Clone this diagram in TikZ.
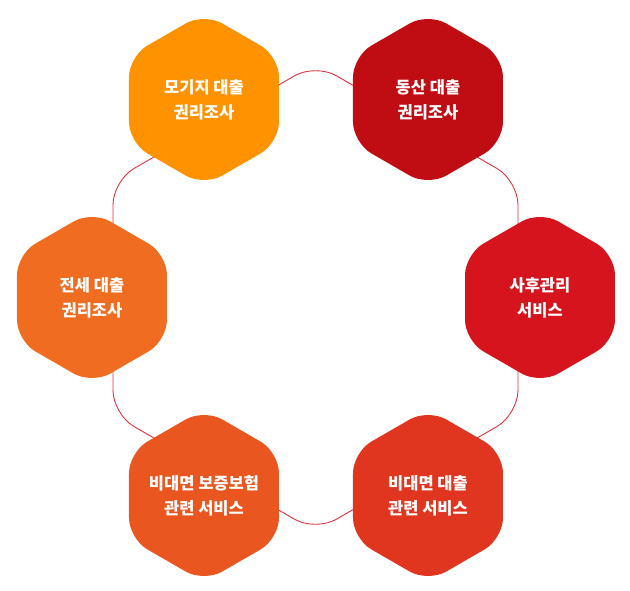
\documentclass[tikz,border=0pt]{standalone}
\usepackage{fontspec}
\newfontfamily\krfont{Noto Sans CJK KR}
\usetikzlibrary{shapes.geometric}
\definecolor{ringred}{RGB}{222,52,64}
\definecolor{mortgage}{RGB}{255,146,0}
\definecolor{movable}{RGB}{192,13,20}
\definecolor{aftercare}{RGB}{214,20,30}
\definecolor{onlineloan}{RGB}{224,54,32}
\definecolor{insurance}{RGB}{234,86,32}
\definecolor{lease}{RGB}{239,108,33}
\begin{document}
\begin{tikzpicture}[x=1pt,y=1pt,
    hexa/.style={regular polygon, regular polygon sides=6, shape border rotate=30,
      minimum size=173.2pt, inner sep=-20pt, rounded corners=21pt, text=white,
      align=center, font=\krfont\bfseries\fontsize{16.5}{25}\selectfont},
    ringline/.style={draw=ringred, line width=0.9pt, regular polygon,
      regular polygon sides=6, shape border rotate=30, minimum size=467.6pt,
      rounded corners=24pt}]
  \useasboundingbox (-316,-292.5) rectangle (314,297.5);
  \node[ringline] (ring) at (-0.5,0) {};
  \path
    (-112,198) node[hexa, fill=mortgage] (mortgage){모기지 대출\\권리조사}
    (112,198) node[hexa, fill=movable] (movable){동산 대출\\권리조사}
    (224,0) node[hexa, fill=aftercare] (aftercare){사후관리\\서비스}
    (112,-198) node[hexa, fill=onlineloan] (onlineloan){비대면 대출\\관련 서비스}
    (-112,-198) node[hexa, fill=insurance] (insurance){비대면 보증보험\\관련 서비스}
    (-224,0) node[hexa, fill=lease] (lease){전세 대출\\권리조사};
\end{tikzpicture}
\end{document}
